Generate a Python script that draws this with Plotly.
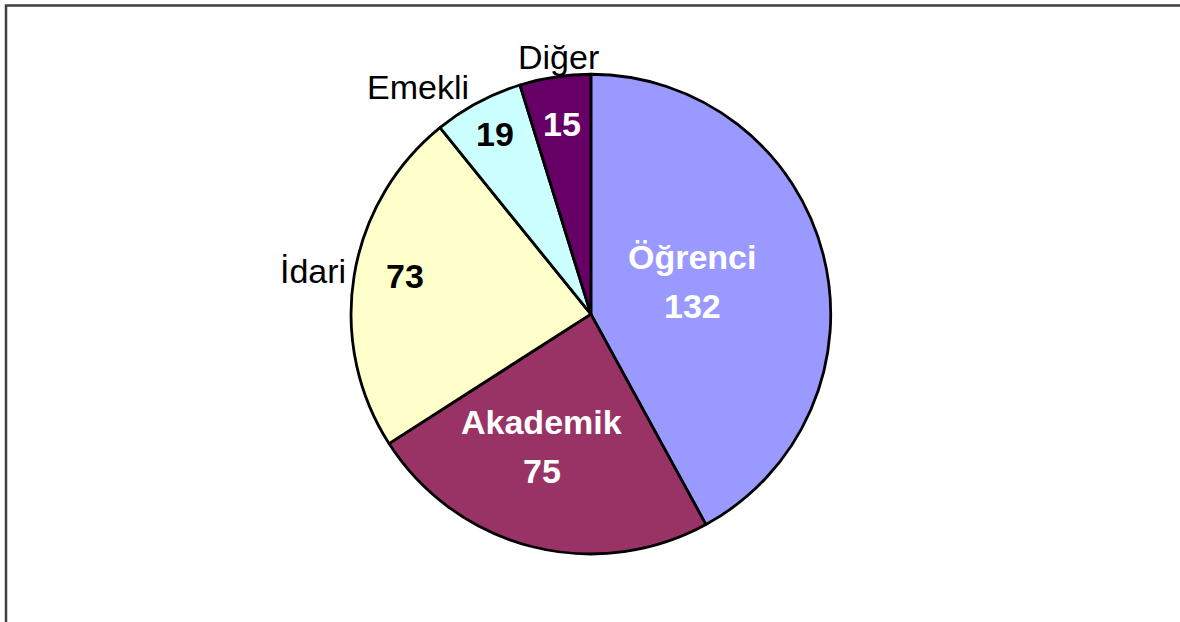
import math
import plotly.graph_objects as go

labels = ["Öğrenci", "Akademik", "İdari", "Emekli", "Diğer"]
values = [132, 75, 73, 19, 15]
colors = ["#9999FF", "#993366", "#FFFFCC", "#CCFFFF", "#660066"]
# style: where the text of each slice goes
name_inside = [True, True, False, False, False]
text_colors = ["white", "white", "black", "black", "white"]
inner_r = [0.445, 0.59, 0.79, 0.85, 0.80]      # fraction of radius
inner_a = [0.476, 0.57, 0.53, 0.50, 0.50]      # fraction along the slice
outer_a = [0.5, 0.5, 0.51, 0.40, 0.55]         # fraction along the slice for outside names

W, H = 1180, 622
dom_x = [0.2975, 0.704]
dom_y = [0.109, 0.881]
cx = (dom_x[0] + dom_x[1]) / 2 * W
cy = H - (dom_y[0] + dom_y[1]) / 2 * H
R = min((dom_x[1] - dom_x[0]) * W, (dom_y[1] - dom_y[0]) * H) / 2

fig = go.Figure(go.Pie(
    labels=labels, values=values, sort=False, direction="clockwise", rotation=0,
    marker=dict(colors=colors, line=dict(color="black", width=2.8)),
    textinfo="none", hoverinfo="label+value", showlegend=False,
    domain=dict(x=dom_x, y=dom_y),
))

FONT = "Liberation Sans, Arial, sans-serif"
FS = 34
LINE_GAP = 24.5
total = sum(values)
start = 0.0
annotations = []
def to_paper(r, ang, dy=0.0):
    x = cx + r * math.sin(ang)
    y = cy - r * math.cos(ang) + dy
    return x / W, (H - y) / H

for i, (lab, v) in enumerate(zip(labels, values)):
    span = v / total * 2 * math.pi
    ang = start + span * inner_a[i]
    oang = start + span * outer_a[i]
    mid = start + span / 2
    start += span
    font = dict(family=FONT, size=FS, color=text_colors[i])
    if name_inside[i]:
        for txt, off in ((f"<b>{lab}</b>", -LINE_GAP), (f"<b>{v}</b>", LINE_GAP)):
            px, py = to_paper(inner_r[i] * R, ang, off)
            annotations.append(dict(x=px, y=py, xref="paper", yref="paper", text=txt,
                                    showarrow=False, xanchor="center", yanchor="middle", font=font))
    else:
        px, py = to_paper(inner_r[i] * R, ang)
        annotations.append(dict(x=px, y=py, xref="paper", yref="paper", text=f"<b>{v}</b>",
                                showarrow=False, xanchor="center", yanchor="middle", font=font))
        s, c = math.sin(mid), math.cos(mid)
        xa = "right" if s < -0.3 else ("left" if s > 0.3 else "center")
        ya = "bottom" if c > 0.3 else ("top" if c < -0.3 else "middle")
        ox, oy = to_paper((0.995 if ya != "middle" else 1.03) * R, oang)
        annotations.append(dict(x=ox, y=oy, xref="paper", yref="paper", text=lab,
                                showarrow=False, xanchor=xa, yanchor=ya,
                                font=dict(family=FONT, size=FS, color="black")))

fig.update_layout(
    width=W, height=H, margin=dict(l=0, r=0, t=0, b=0),
    paper_bgcolor="white", plot_bgcolor="white",
    annotations=annotations,
    shapes=[dict(type="rect", xref="paper", yref="paper",
                 x0=6 / W, x1=1.02, y0=-0.05, y1=1 - 5.5 / H,
                 line=dict(color="#404040", width=2.5), layer="below")],
)
fig.write_html("out.html", config={"displayModeBar": False},
               post_script="document.body.style.margin='0';document.body.style.overflow='hidden';")
